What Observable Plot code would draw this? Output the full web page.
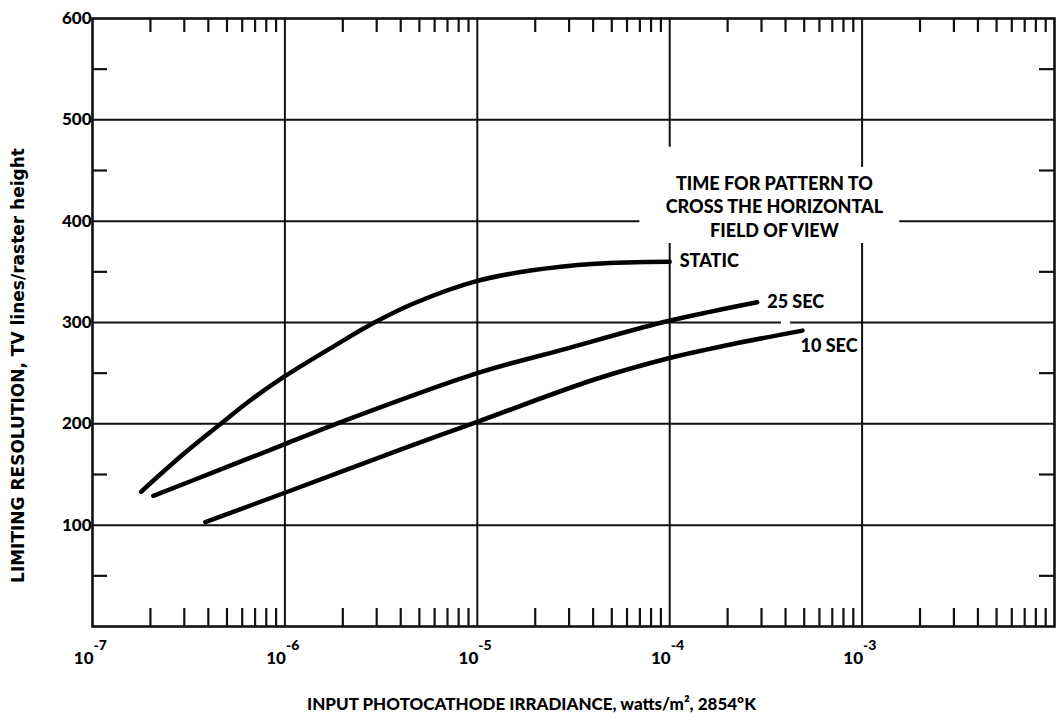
<!DOCTYPE html>
<html>
<head>
<meta charset="utf-8">
<script src="https://cdn.jsdelivr.net/npm/d3@7"></script>
<script src="https://cdn.jsdelivr.net/npm/@observablehq/plot@0.6"></script>
<style>
  body { margin: 0; background: #fff; }
  #chart svg { font-family: Lato, "DejaVu Sans", sans-serif; }
</style>
</head>
<body>
<div id="chart"></div>
<script>
// ---- data ----
const seriesNames = ["STATIC", "25 SEC", "10 SEC"];

const staticX = [1.79e-7, 2.84e-7, 4.5e-7, 6.7e-7, 1e-6, 1.81e-6, 2.92e-6, 4.7e-6, 1e-5, 1.85e-5, 4.1e-5, 1e-4];
const staticY = [133, 167, 198, 224, 247, 277, 300, 319, 341, 351, 358, 360];

const sec25X = [2.07e-7, 4.5e-7, 1e-6, 1.85e-6, 1e-5, 2.75e-5, 9.1e-5, 1.66e-4, 2.85e-4];
const sec25Y = [129, 154, 180, 200, 250, 273, 300, 311, 320];

const sec10X = [3.86e-7, 1e-6, 4.05e-6, 1e-5, 4.1e-5, 1e-4, 2.04e-4, 4.9e-4];
const sec10Y = [103, 132, 175, 202, 244, 265, 278, 292];

const xDecades = [1e-7, 1e-6, 1e-5, 1e-4, 1e-3];
const xExponents = ["-7", "-6", "-5", "-4", "-3"];
const minorMultipliers = [2, 3, 4, 5, 6, 7, 8, 9];
const yTickValues = [100, 200, 300, 400, 500, 600];
const yMinorValues = [50, 150, 250, 350, 450, 550];

// grid line segments (data units), broken around the annotation as in the original
const gridXSegments = [
  {x: 1e-6, y1: 0, y2: 600},
  {x: 1e-5, y1: 0, y2: 600},
  {x: 1e-4, y1: 0, y2: 378}, {x: 1e-4, y1: 473, y2: 600},
  {x: 1e-3, y1: 0, y2: 378}, {x: 1e-3, y1: 453, y2: 600}
];
const gridYSegments = [
  {y: 100, x1: 1e-7, x2: 1e-2},
  {y: 200, x1: 1e-7, x2: 1e-2},
  {y: 300, x1: 1e-7, x2: 3.81e-4}, {y: 300, x1: 4.25e-4, x2: 1e-2},
  {y: 400, x1: 1e-7, x2: 7.0e-5}, {y: 400, x1: 1.57e-3, x2: 1e-2},
  {y: 500, x1: 1e-7, x2: 1e-2}
];

const annotation = "TIME FOR PATTERN TO\nCROSS THE HORIZONTAL\nFIELD OF VIEW";
const annotationX = 3.5e-4;
const annotationY = 415;
const xTitle = "INPUT PHOTOCATHODE IRRADIANCE, watts/m², 2854°K";
const yTitle = "LIMITING RESOLUTION, TV lines/raster height";

// ---- build tables ----
const seriesXs = [staticX, sec25X, sec10X];
const seriesYs = [staticY, sec25Y, sec10Y];
const curves = seriesNames.flatMap((name, i) =>
  seriesXs[i].map((x, j) => ({series: name, x, y: seriesYs[i][j]})));
const ends = seriesNames.map((name, i) => ({
  series: name,
  x: seriesXs[i][seriesXs[i].length - 1],
  y: seriesYs[i][seriesYs[i].length - 1]
}));
const minorX = xDecades.flatMap(d => minorMultipliers.map(m => d * m));
const xLabels = xDecades.map((v, i) => ({v, e: xExponents[i]}));

const W = 1056, H = 721, mL = 92, mR = 2, mT = 18, mB = 95;
const innerW = W - mL - mR, innerH = H - mT - mB;
const unitsPerPx = 600 / innerH;

const chart = Plot.plot({
  width: W, height: H,
  marginLeft: mL, marginRight: mR, marginTop: mT, marginBottom: mB,
  style: {background: "#fff", color: "#000"},
  x: {type: "log", domain: [1e-7, 1e-2], axis: null},
  y: {domain: [0, 600], axis: null},
  marks: [
    Plot.ruleX(gridXSegments, {x: "x", y1: "y1", y2: "y2", stroke: "#111", strokeWidth: 2}),
    Plot.ruleY(gridYSegments, {y: "y", x1: "x1", x2: "x2", stroke: "#111", strokeWidth: 2}),
    // minor ticks, inward
    Plot.ruleX(minorX, {x: d => d, y1: 600, y2: 600 - 14 * unitsPerPx, stroke: "#111", strokeWidth: 2.2}),
    Plot.ruleX(minorX, {x: d => d, y1: 0, y2: 18 * unitsPerPx, stroke: "#111", strokeWidth: 2.2}),
    Plot.tickY(yMinorValues, {y: d => d, insetRight: innerW - 15, stroke: "#111", strokeWidth: 2.2}),
    Plot.tickY(yMinorValues, {y: d => d, insetLeft: innerW - 15, stroke: "#111", strokeWidth: 2.2}),
    Plot.frame({stroke: "#111", strokeWidth: 2.6}),
    // curves
    Plot.line(curves, {x: "x", y: "y", z: "series", curve: "catmull-rom", stroke: "#000",
      strokeWidth: 4.5, strokeLinecap: "round"}),
    // curve labels
    Plot.text(ends, {filter: d => d.series !== "10 SEC", x: "x", y: "y", text: "series",
      textAnchor: "start", dx: 10, fontSize: 18, fontWeight: 900, fill: "#000"}),
    Plot.text(ends, {filter: d => d.series === "10 SEC", x: "x", y: "y", text: "series",
      textAnchor: "start", dx: -2, dy: 16, fontSize: 18, fontWeight: 900, fill: "#000"}),
    // annotation
    Plot.text([annotation], {x: annotationX, y: annotationY, text: d => d, textAnchor: "middle",
      lineHeight: 1.3, fontSize: 18, fontWeight: 900, fill: "#000"}),
    // y tick labels
    Plot.text(yTickValues, {x: 1e-7, y: d => d, text: d => String(d), textAnchor: "end",
      dx: -1, fontSize: 17, fontWeight: 900, fill: "#000"}),
    // x tick labels: "10" and superscript exponent
    Plot.text(xLabels, {x: "v", y: 0, text: () => "10", textAnchor: "end", lineAnchor: "bottom",
      dx: 1, dy: 37, fontSize: 17, fontWeight: 900, fill: "#000"}),
    Plot.text(xLabels, {x: "v", y: 0, text: "e", textAnchor: "start", lineAnchor: "bottom",
      dx: 1, dy: 23, fontSize: 14, fontWeight: 900, fill: "#000"}),
    // axis titles
    Plot.text([xTitle], {frameAnchor: "bottom", text: d => d, textAnchor: "middle", dx: -42, dy: 78,
      lineAnchor: "middle", fontSize: 17, fontWeight: 900, fill: "#000"}),
    Plot.text([yTitle], {frameAnchor: "left", text: d => d, textAnchor: "middle", lineAnchor: "middle",
      rotate: -90, dx: -74, dy: 43, fontSize: 17, fontWeight: "bold", fontFamily: "DejaVu Sans", fill: "#000"})
  ]
});
document.getElementById("chart").append(chart);
</script>
</body>
</html>
